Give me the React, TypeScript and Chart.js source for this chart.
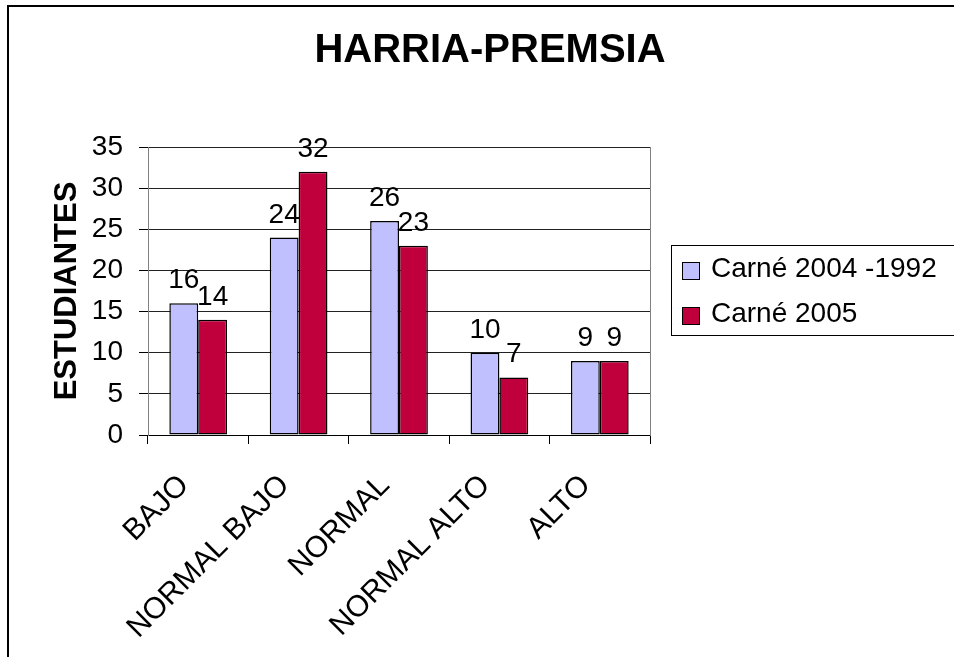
import React, { useEffect, useRef } from 'react';
import { Chart, registerables } from 'chart.js';

Chart.register(...registerables);

const categories = ['BAJO', 'NORMAL BAJO', 'NORMAL', 'NORMAL ALTO', 'ALTO'];
const seriesNames = ['Carné 2004 -1992', 'Carné 2005'];
const carne2004 = [16, 24, 26, 10, 9];
const carne2005 = [14, 32, 23, 7, 9];
const yMin = 0;
const yMax = 35;
const yStep = 5;
const titleText = 'HARRIA-PREMSIA';
const yTitleText = 'ESTUDIANTES';

const FONT = '"Liberation Sans", Arial, Helvetica, sans-serif';
const BLUE = '#C0C0FF';
const RED = '#C0003C';

const framePlugin = {
  id: 'outerFrame',
  beforeDraw(chart: any) {
    const { ctx, width, height } = chart;
    ctx.save();
    ctx.fillStyle = '#ffffff';
    ctx.fillRect(0, 0, width, height);
    ctx.strokeStyle = '#000000';
    ctx.lineWidth = 2;
    ctx.strokeRect(8, 6, width + 40, height + 40);
    ctx.restore();
  },
};

const valueLabelPlugin = {
  id: 'valueLabels',
  afterDatasetsDraw(chart: any) {
    const { ctx } = chart;
    ctx.save();
    ctx.font = `28px ${FONT}`;
    ctx.fillStyle = '#000000';
    ctx.textAlign = 'center';
    ctx.textBaseline = 'alphabetic';
    chart.data.datasets.forEach((ds: any, di: number) => {
      const meta = chart.getDatasetMeta(di);
      meta.data.forEach((el: any, i: number) => {
        ctx.fillText(String(ds.data[i]), el.x, el.y - 15);
      });
    });
    ctx.restore();
  },
};

// Legend drawn from the datasets (labels and colours), framed like the original.
const boxedLegendPlugin = {
  id: 'boxedLegend',
  afterDraw(chart: any) {
    const { ctx, chartArea } = chart;
    const midY = (chartArea.top + chartArea.bottom) / 2;
    const frameLeft = chartArea.right + 21;
    const frameTop = midY - 46;
    const frameBottom = midY + 44;
    const rowGap = 45;
    ctx.save();
    ctx.strokeStyle = '#000000';
    ctx.lineWidth = 1;
    ctx.strokeRect(Math.round(frameLeft) + 0.5, Math.round(frameTop) + 0.5, 400, Math.round(frameBottom - frameTop));
    ctx.font = `28px ${FONT}`;
    ctx.textAlign = 'left';
    ctx.textBaseline = 'alphabetic';
    chart.data.datasets.forEach((ds: any, i: number) => {
      const cy = midY - 20 + i * rowGap;
      const bx = Math.round(frameLeft + 11);
      const by = Math.round(cy - 9);
      ctx.fillStyle = ds.backgroundColor;
      ctx.fillRect(bx, by, 18, 18);
      ctx.strokeStyle = '#000000';
      ctx.lineWidth = 1;
      ctx.strokeRect(bx + 0.5, by + 0.5, 17, 17);
      ctx.fillStyle = '#000000';
      ctx.fillText(ds.label, frameLeft + 40, cy + 6);
    });
    ctx.restore();
  },
};

export default function App() {
  const canvasRef = useRef<HTMLCanvasElement | null>(null);

  useEffect(() => {
    if (!canvasRef.current) return;
    const chart = new Chart(canvasRef.current, {
      type: 'bar',
      data: {
        labels: categories,
        datasets: [
          {
            label: seriesNames[0],
            data: carne2004,
            backgroundColor: BLUE,
            borderColor: '#000000',
            borderWidth: 1.5,
            borderSkipped: false,
            barPercentage: 1,
            categoryPercentage: 0.575,
          },
          {
            label: seriesNames[1],
            data: carne2005,
            backgroundColor: RED,
            borderColor: '#000000',
            borderWidth: 1.5,
            borderSkipped: false,
            barPercentage: 1,
            categoryPercentage: 0.575,
          },
        ],
      },
      options: {
        responsive: false,
        animation: false,
        devicePixelRatio: 1,
        layout: { padding: { left: 30, right: 4, top: 0, bottom: 0 } },
        plugins: {
          title: {
            display: true,
            text: titleText,
            color: '#000000',
            font: { family: FONT, size: 40, weight: 'bold' },
            padding: { top: 27, bottom: 72 },
          },
          legend: { display: false },
          tooltip: { enabled: false },
        },
        scales: {
          x: {
            type: 'category',
            offset: true,
            grid: {
              display: true,
              drawOnChartArea: false,
              drawTicks: true,
              tickLength: 9,
              color: '#000000',
              offset: true,
            },
            border: { display: true, color: '#000000', width: 1 },
            ticks: {
              color: '#000000',
              font: { family: FONT, size: 30 },
              minRotation: 45,
              maxRotation: 45,
              autoSkip: false,
              padding: 24,
              labelOffset: -14,
            },
            afterFit: (s: any) => {
              s.height = 222;
            },
          },
          y: {
            type: 'linear',
            min: yMin,
            max: yMax,
            ticks: {
              stepSize: yStep,
              color: '#000000',
              font: { family: FONT, size: 28 },
              padding: 16,
            },
            grid: {
              color: '#222222',
              tickColor: '#000000',
              tickLength: 9,
              lineWidth: 1,
            },
            border: { display: true, color: '#808080', width: 1 },
            title: {
              display: true,
              text: yTitleText,
              color: '#000000',
              font: { family: FONT, size: 31, weight: 'bold' },
              padding: { top: 19, bottom: 0 },
            },
            afterFit: (s: any) => {
              s.width = 118;
            },
          },
          y2: {
            type: 'linear',
            position: 'right',
            display: true,
            ticks: { display: false },
            grid: { display: false, drawTicks: false },
            border: { display: true, color: '#808080', width: 1 },
            afterFit: (s: any) => {
              s.width = 300;
            },
          },
        },
      },
      plugins: [framePlugin, valueLabelPlugin, boxedLegendPlugin],
    } as any);
    return () => chart.destroy();
  }, []);

  return (
    <div style={{ position: 'fixed', left: 0, top: 0, width: 954, height: 657, background: '#fff' }}>
      <canvas ref={canvasRef} width={954} height={657} style={{ display: 'block' }} />
    </div>
  );
}
